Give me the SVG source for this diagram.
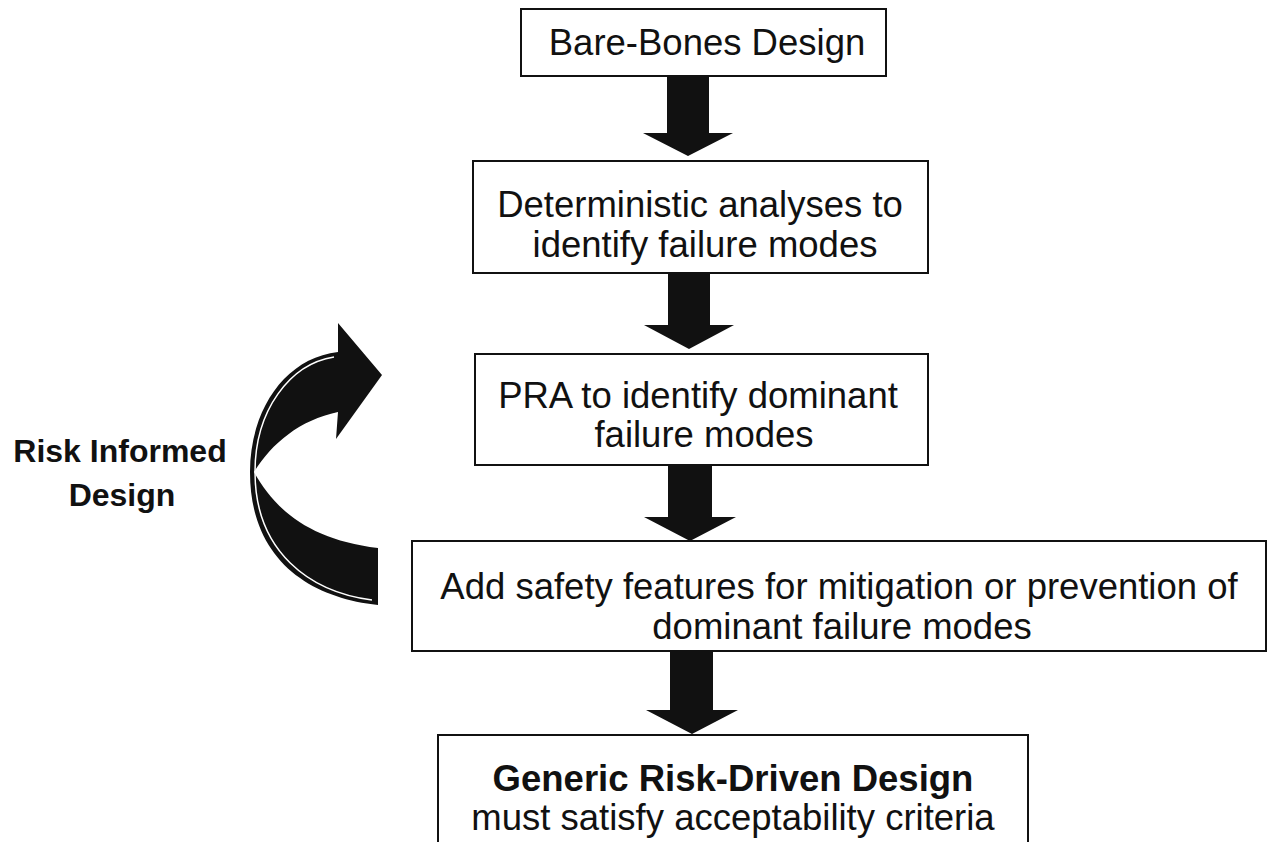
<svg xmlns="http://www.w3.org/2000/svg" width="1283" height="842" viewBox="0 0 1283 842">
<style>
.box{fill:#fff;stroke:#111;stroke-width:2}
.t{font-family:"Liberation Sans",Arial,Helvetica,sans-serif;font-size:36.5px;fill:#111;text-anchor:middle}
.b{font-weight:bold}
.lbl{font-family:"Liberation Sans",Arial,Helvetica,sans-serif;font-size:32px;font-weight:bold;fill:#111;text-anchor:middle}
.arr{fill:#111}
.hl{fill:none;stroke:#fff;stroke-width:1.5}
</style>
<rect width="1283" height="842" fill="#fff"/>
<g id="connectors">
<polygon class="arr" points="667,76 709,76 709,133 733,133 688,156 643,133 667,133"/>
<polygon class="arr" points="668,273 710,273 710,325 734,325 689,349 644,325 668,325"/>
<polygon class="arr" points="668,465 712,465 712,517 736,517 690,541 644,517 668,517"/>
<polygon class="arr" points="670,651 713,651 713,710 738,710 692,734 646,710 670,710"/>
<path id="loop-arrow" class="arr" d="M338,352 L338,323 L382,375 L336,439 L338,412 C300,420 272,443 254,472 C275,510 310,540 378,548 L378,605 C310,598 250,560 250,472 C250,410 285,358 338,352 Z"/>
<path class="hl" d="M334,357 C290,364 255,410 255,472 C255,552 310,592 372,600"/>
</g>
<g id="node-bare-bones">
<rect class="box" x="521" y="9" width="365" height="67"/>
<text class="t" x="707" y="55">Bare-Bones Design</text>
</g>
<g id="node-deterministic">
<rect class="box" x="473" y="161" width="455" height="112"/>
<text class="t" x="700" y="217">Deterministic analyses to</text>
<text class="t" x="705" y="257">identify failure modes</text>
</g>
<g id="node-pra">
<rect class="box" x="475" y="354" width="453" height="111"/>
<text class="t" x="698" y="408">PRA to identify dominant</text>
<text class="t" x="704" y="447">failure modes</text>
</g>
<g id="node-safety">
<rect class="box" x="412" y="541" width="854" height="110"/>
<text class="t" x="839" y="599">Add safety features for mitigation or prevention of</text>
<text class="t" x="842" y="639">dominant failure modes</text>
</g>
<g id="node-generic">
<rect class="box" x="438" y="735" width="590" height="120"/>
<text class="t b" x="733" y="791">Generic Risk-Driven Design</text>
<text class="t" x="733" y="830">must satisfy acceptability criteria</text>
</g>
<g id="label-risk-informed">
<text class="lbl" x="120" y="462">Risk Informed</text>
<text class="lbl" x="122" y="506">Design</text>
</g>
</svg>
